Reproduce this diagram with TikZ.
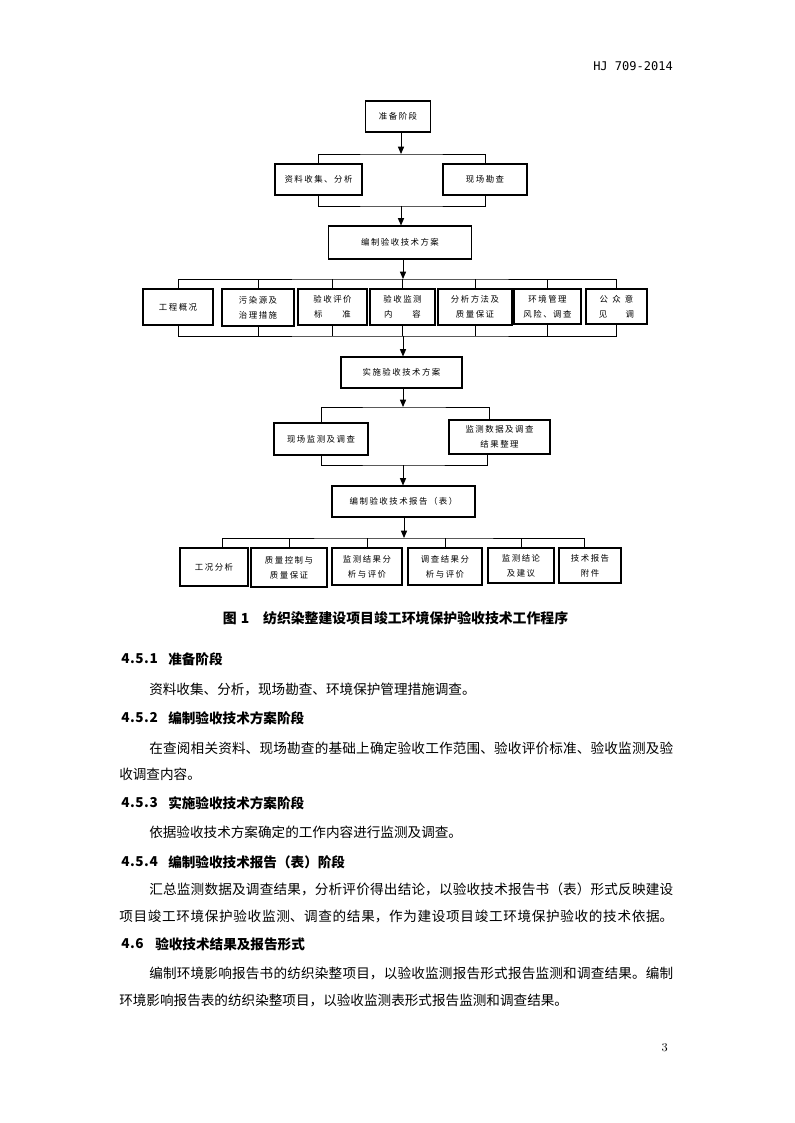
\documentclass[tikz,border=0pt]{standalone}
\usepackage{fontspec}
\usetikzlibrary{arrows.meta}
\newfontfamily\cjk{Noto Sans CJK SC}
\newfontfamily\boxfont[LetterSpace=18]{Noto Sans CJK SC}
\newfontfamily\numfont[LetterSpace=4]{Noto Sans CJK SC}
\newfontfamily\stdmono{DejaVu Sans Mono}
\XeTeXlinebreaklocale "zh"
\XeTeXlinebreakskip=0pt plus 3pt minus 0.2pt
\newcommand\fullline[1]{{\parfillskip=0pt\relax\noindent #1\par}}
\tikzset{
  stagebox/.style={draw,line width=0.8pt,inner sep=0pt,align=center,
    font={\boxfont\fontsize{6.3pt}{11.2pt}\selectfont}},
  link/.style={line width=0.7pt},
  flow/.style={line width=0.7pt,-{Triangle[length=5.5pt,width=4.6pt]}},
  secno/.style={anchor=west,inner sep=0pt,font={\numfont\bfseries\fontsize{10.2pt}{12pt}\selectfont}},
  sectitle/.style={anchor=west,inner sep=0pt,font={\cjk\bfseries\fontsize{10.2pt}{12pt}\selectfont}},
  bodyline/.style={anchor=west,inner sep=0pt,font={\cjk\fontsize{10.2pt}{12pt}\selectfont}},
  wideline/.style={bodyline,align=justify}
}

\begin{document}
\begin{tikzpicture}[x=0.75pt,y=-0.75pt]
  \useasboundingbox (0,0) rectangle (794,1123);

  \node[anchor=east,inner sep=0pt,font={\stdmono\fontsize{9pt}{10pt}\selectfont}] (stdno) at (673,66) {HJ 709-2014};

  \node[stagebox,minimum width=48.75pt,minimum height=23.25pt] (prep) at (398,116.5) {准备阶段};
  \node[stagebox,minimum width=65.25pt,minimum height=23.25pt] (collect) at (318.5,179.5) {资料收集、分析};
  \node[stagebox,minimum width=63pt,minimum height=23.25pt] (site) at (485,179.5) {现场勘查};
  \node[stagebox,minimum width=107.25pt,minimum height=24.75pt] (plan) at (400,242.5) {编制验收技术方案};

  \node[stagebox,minimum width=52.5pt,minimum height=27pt] (p1) at (178,307) {工程概况};
  \node[stagebox,minimum width=54pt,minimum height=27.75pt] (p2) at (258,307.5) {污染源及\\治理措施};
  \node[stagebox,minimum width=51.75pt,minimum height=27pt] (p3) at (332.5,307) {验收评价\\标\hspace{2.36em}准};
  \node[stagebox,minimum width=48.75pt,minimum height=27pt] (p4) at (402.5,307) {验收监测\\内\hspace{2.36em}容};
  \node[stagebox,minimum width=55.5pt,minimum height=27pt] (p5) at (475,307) {分析方法及\\质量保证};
  \node[stagebox,minimum width=50.25pt,minimum height=26.25pt] (p6) at (547.5,306.5) {环境管理\\风险、调查};
  \node[stagebox,minimum width=45.75pt,minimum height=26.25pt] (p7) at (616.5,306.5) {公\hspace{.5em}众\hspace{.5em}意\\见\hspace{2.2em}调};

  \node[stagebox,minimum width=90.75pt,minimum height=23.25pt] (impl) at (401.5,372.5) {实施验收技术方案};
  \node[stagebox,minimum width=70.5pt,minimum height=24pt] (fieldmon) at (321,439) {现场监测及调查};
  \node[stagebox,minimum width=75.75pt,minimum height=25.5pt] (collate) at (499.5,437) {监测数据及调查\\结果整理};
  \node[stagebox,minimum width=107.25pt,minimum height=23.25pt] (report) at (403.5,501.5) {编制验收技术报告（表）};

  \node[stagebox,minimum width=51pt,minimum height=28.5pt] (q1) at (214,567) {工况分析};
  \node[stagebox,minimum width=57pt,minimum height=29.25pt] (q2) at (289,567.5) {质量控制与\\质量保证};
  \node[stagebox,minimum width=52.5pt,minimum height=27.75pt] (q3) at (367,566.5) {监测结果分\\析与评价};
  \node[stagebox,minimum width=55.5pt,minimum height=27.75pt] (q4) at (445,566.5) {调查结果分\\析与评价};
  \node[stagebox,minimum width=49.5pt,minimum height=26.25pt] (q5) at (521,565.5) {监测结论\\及建议};
  \node[stagebox,minimum width=46.5pt,minimum height=26.25pt] (q6) at (590,565.5) {技术报告\\附件};

  \coordinate (j1) at (401,154);
  \coordinate (j2) at (401,206);
  \coordinate (j3) at (403,279);
  \coordinate (j4) at (403,336);
  \coordinate (j5) at (403,407);
  \coordinate (j6) at (403,465);
  \coordinate (j7) at (404,538);

  \draw[flow] (prep.south -| j1) -- (j1);
  \draw[link] (collect.north) |- (j1) -| (site.north);
  \draw[link] (collect.south) |- (j2) -| (site.south);
  \draw[flow] (j2) -- (plan.north -| j2);
  \draw[flow] (plan.south -| j3) -- (j3);
  \draw[link] (p1.north) |- (j3) -| (p7.north);
  \draw[link] (p1.south) |- (j4) -| (p7.south);
  \foreach \n in {p2,p3,p4,p5,p6}
    \draw[link] (\n.north) -- (\n.north |- j3) (\n.south) -- (\n.south |- j4);
  \draw[flow] (j4) -- (impl.north -| j4);
  \draw[flow] (impl.south -| j5) -- (j5);
  \draw[link] (fieldmon.north) |- (j5) -| ([xshift=-7.5pt]collate.north);
  \draw[link] (fieldmon.south) |- (j6) -| ([xshift=-9pt]collate.south);
  \draw[flow] (j6) -- (report.north -| j6);
  \draw[flow] (report.south -| j7) -- (j7);
  \draw[link] ([xshift=6.5pt]q1.north) |- (j7) -| ([xshift=-4.5pt]q6.north);
  \foreach \n in {q2,q3,q4,q5}
    \draw[link] (\n.north) -- (\n.north |- j7);

  \node[font={\cjk\bfseries\fontsize{10.4pt}{12pt}\selectfont}] (caption) at (395.5,618) {图\hspace{0.3em}1\hspace{1em}纺织染整建设项目竣工环境保护验收技术工作程序};

  \foreach \y/\num/\x/\title [count=\i] in {659/4.5.1/168/准备阶段, 718/4.5.2/168/编制验收技术方案阶段, 803/4.5.3/168/实施验收技术方案阶段, 862/4.5.4/168/编制验收技术报告（表）阶段, 944/4.6/155/验收技术结果及报告形式}
  {
    \node[secno] (secno\i) at (121,\y) {\num};
    \node[sectitle] (sectitle\i) at (\x,\y) {\title};
  }

  \node[bodyline] (body1) at (149,689) {资料收集、分析，现场勘查、环境保护管理措施调查。};
  \node[wideline,text width=393pt] (body2) at (149,748) {\fullline{在查阅相关资料、现场勘查的基础上确定验收工作范围、验收评价标准、验收监测及验}};
  \node[bodyline] (body3) at (119,774) {收调查内容。};
  \node[bodyline] (body4) at (149,832) {依据验收技术方案确定的工作内容进行监测及调查。};
  \node[wideline,text width=393pt] (body5) at (149,889) {\fullline{汇总监测数据及调查结果，分析评价得出结论，以验收技术报告书（表）形式反映建设}};
  \node[wideline,text width=415.5pt] (body6) at (119,916) {\fullline{项目竣工环境保护验收监测、调查的结果，作为建设项目竣工环境保护验收的技术依据。}};
  \node[wideline,text width=393pt] (body7) at (149,973) {\fullline{编制环境影响报告书的纺织染整项目，以验收监测报告形式报告监测和调查结果。编制}};
  \node[bodyline] (body8) at (119,1000) {环境影响报告表的纺织染整项目，以验收监测表形式报告监测和调查结果。};

  \node[anchor=east,inner sep=0pt,font={\fontsize{9pt}{10pt}\selectfont}] (pageno) at (668,1048) {3};
\end{tikzpicture}
\end{document}
